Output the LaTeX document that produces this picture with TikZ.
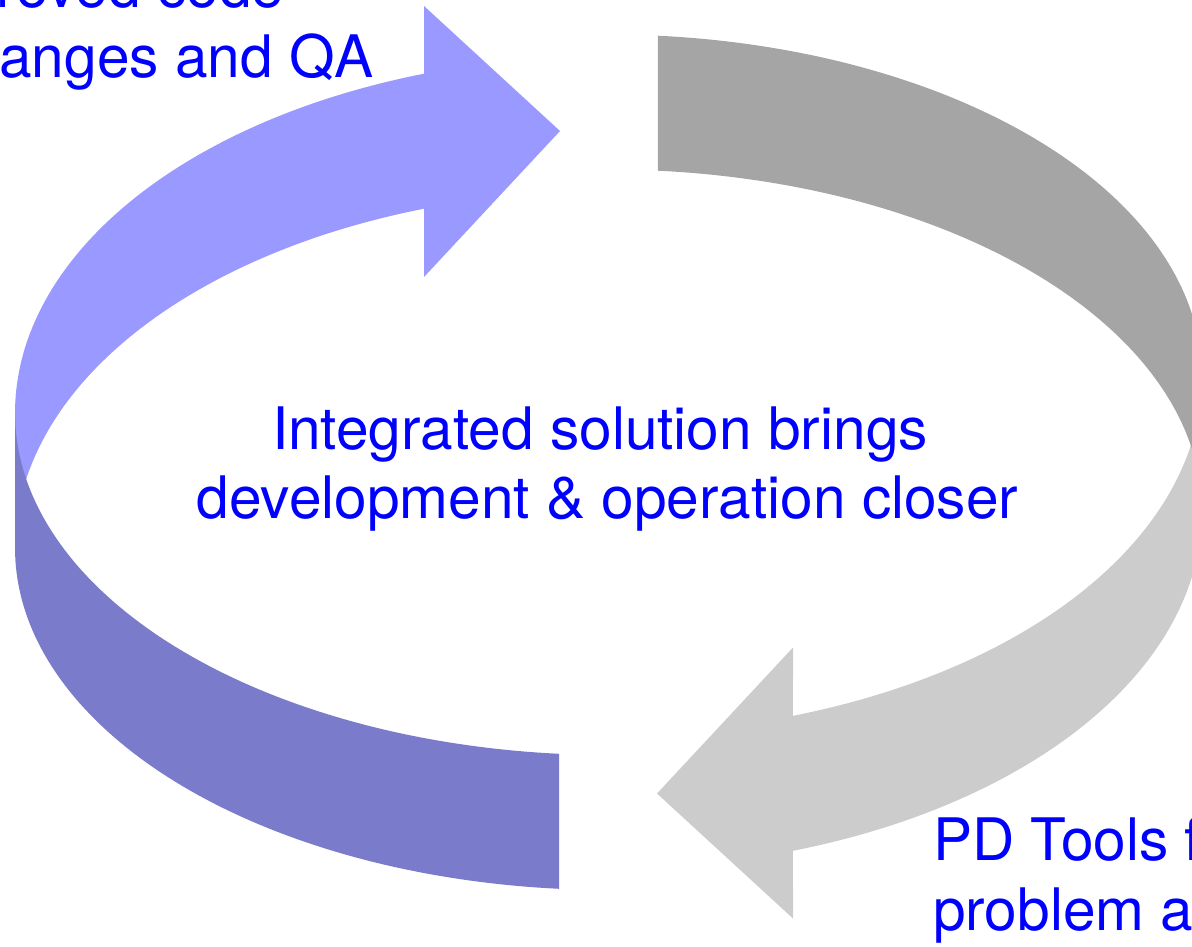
\documentclass[tikz,border=0pt]{standalone}
\usepackage{fontspec}
\setmainfont{TeX Gyre Heros}
\definecolor{lblue}{HTML}{9999FF}
\definecolor{dblue}{HTML}{7B7BCB}
\definecolor{lgray}{HTML}{CCCCCC}
\definecolor{dgray}{HTML}{A5A5A5}
\definecolor{txtblue}{HTML}{0000FF}
\begin{document}
\begin{tikzpicture}[x=1pt,y=-1pt,
  lbl/.style={inner sep=0pt,outer sep=0pt,text=txtblue,font=\fontsize{58.6}{70}\selectfont},
  backarrow/.style={fill=#1},
  frontband/.style={fill=#1}]
\useasboundingbox (0,0) rectangle (1192,947);
\clip (0,0) rectangle (1192,947);
% blue half
\fill[backarrow=lblue] plot[domain=180:251.89,samples=80,variable=\t] ({608.5+593.5*cos(\t)},{413+357*sin(\t)})
  -- (424,6) -- (560,131) -- (424,277)
  -- plot[domain=251.89:180,samples=80,variable=\t] ({608.5+593.5*cos(\t)},{548+357*sin(\t)}) -- cycle;
\fill[frontband=dblue] plot[domain=180:94.78,samples=80,variable=\t] ({608.5+593.5*cos(\t)},{413+342*sin(\t)})
  -- plot[domain=94.78:180,samples=80,variable=\t] ({608.5+593.5*cos(\t)},{548+342*sin(\t)}) -- cycle;
% gray half (point reflection)
\begin{scope}[rotate around={180:(608.5,462.25)}]
\fill[backarrow=lgray] plot[domain=180:251.89,samples=80,variable=\t] ({608.5+593.5*cos(\t)},{413+357*sin(\t)})
  -- (424,6) -- (560,131) -- (424,277)
  -- plot[domain=251.89:180,samples=80,variable=\t] ({608.5+593.5*cos(\t)},{548+357*sin(\t)}) -- cycle;
\fill[frontband=dgray] plot[domain=180:94.78,samples=80,variable=\t] ({608.5+593.5*cos(\t)},{413+342*sin(\t)})
  -- plot[domain=94.78:180,samples=80,variable=\t] ({608.5+593.5*cos(\t)},{548+342*sin(\t)}) -- cycle;
\end{scope}
% texts
\node[lbl,anchor=base west] (tl1) at (-3,8) {roved code};
\node[lbl,anchor=base east] (tl2) at (374,78) {anges and QA};
\node[lbl,anchor=base] (c1) at (600,449) {Integrated solution brings};
\node[lbl,anchor=base] (c2) at (607.5,518) {development \& operation closer};
\node[lbl,anchor=base west] (br1) at (933,860) {PD Tools f};
\node[lbl,anchor=base west] (br2) at (933,930) {problem a};
\end{tikzpicture}
\end{document}
